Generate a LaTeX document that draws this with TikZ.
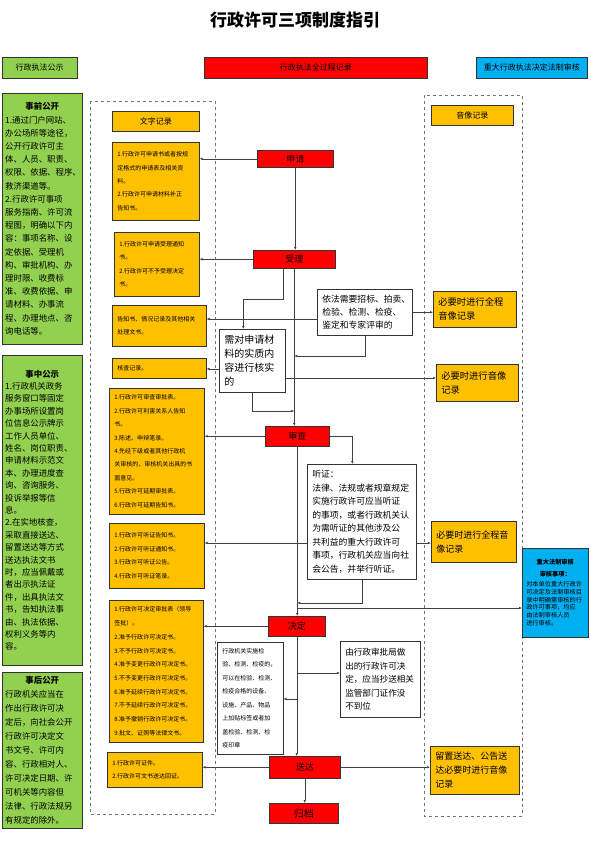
\documentclass[tikz,border=0pt]{standalone}
\usepackage{fontspec}
\setmainfont{Noto Sans CJK SC}
\usetikzlibrary{arrows.meta, positioning, calc}
\definecolor{lawgreen}{HTML}{92D050}
\definecolor{recgold}{HTML}{FFC000}
\definecolor{stepred}{HTML}{FF0000}
\definecolor{checkblue}{HTML}{00B0F0}

\begin{document}
\begin{tikzpicture}[x=1pt, y=-1pt,
  base/.style={draw=black!80, line width=0.5pt, anchor=north west, inner sep=0pt, align=left},
  stepbox/.style={base, fill=stepred, align=center, font=\fontsize{9}{10}\selectfont},
  headbox/.style={base, align=center, font=\fontsize{8}{9}\selectfont},
  pubbox/.style={base, fill=lawgreen, inner xsep=3pt, text width=74pt, minimum width=80},
  recbox/.style={base, fill=recgold, inner xsep=5pt, font=\fontsize{6}{13.4}\selectfont},
  avbox/.style={base, fill=recgold, inner xsep=5pt, font=\fontsize{9.3}{14}\selectfont},
  notebox/.style={base, fill=white, inner xsep=5pt},
  arr/.style={-{Latex[length=3pt,width=2.4pt]}, draw=black!75, line width=0.5pt},
  frame/.style={draw=black!55, dashed, line width=0.6pt}]
\useasboundingbox (0,0) rectangle (590,843);

\node[font=\fontsize{17}{18}\selectfont\bfseries] (title) at (295,20) {行政许可三项制度指引};

% column heads
\node[headbox, fill=lawgreen, minimum width=75, minimum height=21] (hpub) at (2,57) {行政执法公示};
\node[headbox, fill=stepred, minimum width=223, minimum height=21] (hrec) at (204,57) {行政执法全过程记录};
\node[headbox, fill=checkblue, minimum width=111, minimum height=21] (hchk) at (476,57) {重大行政执法决定法制审核};

% publicity column
\node[pubbox, minimum height=251, font=\fontsize{8.4}{13.2}\selectfont] (pre) at (2,93) {\makebox[\hsize]{\bfseries 事前公开}\\
1.通过门户网站、\\
办公场所等途径，\\
公开行政许可主\\
体、人员、职责、\\
权限、依据、程序、\\
救济渠道等。\\
2.行政许可事项\\
服务指南、许可流\\
程图，明确以下内\\
容：事项名称、设\\
定依据、受理机\\
构、审批机构、办\\
理时限、收费标\\
准、收费依据、申\\
请材料、办事流\\
程、办理地点、咨\\
询电话等。};
\node[pubbox, minimum height=310, font=\fontsize{8.4}{12.4}\selectfont] (mid) at (2,355) {\makebox[\hsize]{\bfseries 事中公示}\\
1.行政机关政务\\
服务窗口等固定\\
办事场所设置岗\\
位信息公示牌示\\
工作人员单位、\\
姓名、岗位职责、\\
申请材料示范文\\
本、办理进度查\\
询、咨询服务、\\
投诉举报等信\\
息。\\
2.在实地核查，\\
采取直接送达、\\
留置送达等方式\\
送达执法文书\\
时，应当佩戴或\\
者出示执法证\\
件，出具执法文\\
书，告知执法事\\
由、执法依据、\\
权利义务等内\\
容。};
\node[pubbox, minimum height=156, font=\fontsize{8.4}{14}\selectfont] (post) at (2,672) {\makebox[\hsize]{\bfseries 事后公开}\\
行政机关应当在\\
作出行政许可决\\
定后，向社会公开\\
行政许可决定文\\
书文号、许可内\\
容、行政相对人、\\
许可决定日期、许\\
可机关等内容但\\
法律、行政法规另\\
有规定的除外。};

% record frames
\draw[frame] (90,101) rectangle (215,814);
\draw[frame] (424,95) rectangle (522,816);
\node[headbox, fill=recgold, minimum width=87, minimum height=20] (txtrec) at (112,111) {文字记录};
\node[headbox, fill=recgold, minimum width=82, minimum height=20] (avrec) at (431,105) {音像记录};

% written records
\node[recbox, minimum width=87, minimum height=78, text width=77pt] (y1) at (112,142) {1.行政许可申请书或者按规\\定格式的申请表及相关资\\料。\\2.行政许可申请材料补正\\告知书。};
\node[recbox, minimum width=85, minimum height=64, text width=75pt] (y2) at (114,232) {1.行政许可申请受理通知\\书。\\2.行政许可不予受理决定\\书。};
\node[recbox, minimum width=94, minimum height=41, text width=84pt] (y3) at (112,305) {告知书、情况记录及其他相关\\处理文书。};
\node[recbox, minimum width=94, minimum height=20, text width=84pt] (y4) at (112,358) {核查记录。};
\node[recbox, minimum width=95, minimum height=126, text width=85pt] (y5) at (109,388) {1.行政许可审查审批表。\\2.行政许可利害关系人告知\\书。\\3.陈述、申辩笔录。\\4.先经下级或者其他行政机\\关审核的，审核机关出具的书\\面意见。\\5.行政许可延期审批表。\\6.行政许可延期告知书。};
\node[recbox, minimum width=95, minimum height=65, text width=85pt] (y6) at (109,523) {1.行政许可听证告知书。\\2.行政许可听证通知书。\\3.行政许可听证公告。\\4.行政许可听证笔录。};
\node[recbox, minimum width=94, minimum height=142, text width=84pt, font=\fontsize{6}{13.7}\selectfont] (y7) at (109,600) {1.行政许可决定审批表（领导\\签批）。\\2.准予行政许可决定书。\\3.不予行政许可决定书。\\4.准予变更行政许可决定书。\\5.不予变更行政许可决定书。\\6.准予延续行政许可决定书。\\7.不予延续行政许可决定书。\\8.准予撤销行政许可决定书。\\9.批文、证照等法律文书。};
\node[recbox, minimum width=95, minimum height=35, text width=85pt, font=\fontsize{6}{12.4}\selectfont] (y8) at (107,752) {1.行政许可证件。\\2.行政许可文书送达回证。};

% procedure steps
\node[stepbox, minimum width=76, minimum height=17] (apply) at (257,150) {申请};
\node[stepbox, minimum width=82, minimum height=18] (accept) at (253,250) {受理};
\node[stepbox, minimum width=64, minimum height=20] (review) at (265,426) {审查};
\node[stepbox, minimum width=57, minimum height=20] (decide) at (268,616) {决定};
\node[stepbox, minimum width=71, minimum height=22] (deliver) at (269,756) {送达};
\node[stepbox, minimum width=69, minimum height=20, font=\fontsize{10}{11}\selectfont] (archive) at (269,803) {归档};

% notes
\node[notebox, minimum width=95, minimum height=46, text width=85pt, font=\fontsize{8.8}{13.4}\selectfont] (tender) at (317,289) {依法需要招标、拍卖、\\检验、检测、检疫、\\鉴定和专家评审的};
\node[notebox, minimum width=66, minimum height=63, text width=56pt, font=\fontsize{10}{13.8}\selectfont] (verify) at (219,329) {需对申请材\\料的实质内\\容进行核实\\的};
\node[notebox, minimum width=109, minimum height=115, text width=99pt, font=\fontsize{8.8}{13.5}\selectfont] (hearing) at (307,464) {听证：\\法律、法规或者规章规定\\实施行政许可应当听证\\的事项，或者行政机关认\\为需听证的其他涉及公\\共利益的重大行政许可\\事项，行政机关应当向社\\会公告，并举行听证。};
\node[notebox, minimum width=66, minimum height=112, text width=56pt, font=\fontsize{6}{13.5}\selectfont] (inspect) at (217,642) {行政机关实施检\\验、检测、检疫的，\\可以在检验、检测、\\检疫合格的设备、\\设施、产品、物品\\上加贴标签或者加\\盖检验、检测、检\\疫印章};
\node[notebox, minimum width=80, minimum height=76, text width=70pt, font=\fontsize{8.6}{13.5}\selectfont] (report) at (340,641) {由行政审批局做\\出的行政许可决\\定，应当抄送相关\\监管部门证作没\\不到位};

% audio-visual records
\node[avbox, minimum width=83, minimum height=36, text width=73pt] (av1) at (433,291) {必要时进行全程\\音像记录};
\node[avbox, minimum width=82, minimum height=37, text width=72pt] (av2) at (436,364) {必要时进行音像\\记录};
\node[avbox, minimum width=85, minimum height=41, text width=75pt, font=\fontsize{9}{14}\selectfont] (av3) at (431,521) {必要时进行全程音\\像记录};
\node[avbox, minimum width=89, minimum height=48, text width=79pt, font=\fontsize{9}{14}\selectfont] (av4) at (430,746) {留置送达、公告送\\达必要时进行音像\\记录};

% legal review
\node[base, fill=checkblue, minimum width=66, minimum height=89, inner xsep=4pt, text width=58pt, font=\fontsize{6.2}{7.8}\selectfont] (legal) at (522,548) {\makebox[\hsize]{\bfseries 重大法制审核}\\[4pt]\makebox[\hsize]{\bfseries 审核事项：}\\[2pt]对本单位重大行政许\\可决定及法制审核目\\录中明确需审核的行\\政许可事项，均应\\由法制审核人员\\进行审核。};

% main flow
\draw[arr] (apply.south) -- (apply.south |- accept.north);
\draw[arr] (accept.south) -- (accept.south |- review.north);
\draw[arr] (review.south) -- (review.south |- decide.north);
\draw[arr] (decide.south) -- (decide.south |- deliver.north);
\draw[arr] (deliver.south) -- (deliver.south |- archive.north);

% steps to written records
\draw[arr] (apply.west) -- (apply.west -| y1.east);
\draw[arr] (accept.west) -- (accept.west -| y2.east);
\draw[arr] (review.west) -- (review.west -| y5.east);
\draw[arr] (decide.west) -- (decide.west -| y7.east);
\draw[arr] (deliver.west) -- (deliver.west -| y8.east);

% side branches
\draw[arr] ([xshift=-11pt]accept.south) -- ++(0,31) -| ([xshift=-9pt]verify.north);
\draw[arr] (tender.east) -- (tender.east -| av1.west);
\draw[arr] (tender.west |- 0,319) -- (y3.east |- 0,319);
\draw[arr] (tender.south) |- (accept.south |- 0,356);
\draw[arr] (verify.west |- 0,369) -- (y4.east |- 0,369);
\draw[arr] (verify.east |- 0,378) -- (av2.west |- 0,378);
\draw[arr] (verify.south) |- (accept.south |- 0,411);
\draw[arr] (review.east) -| ([xshift=-9.5pt]hearing.north);
\draw[arr] (hearing.west |- 0,543) -- (y6.east |- 0,543);
\draw[arr] (hearing.east |- 0,543) -- (av3.west |- 0,543);
\draw[arr] (hearing.south) |- (review.south |- 0,603);
\draw[arr] (review.south |- 0,608) -- (legal.west |- 0,608);
\draw[arr] (decide.south |- 0,673) -- (report.west |- 0,673);
\draw[arr] (decide.south |- 0,699) -- (inspect.east |- 0,699);
\draw[arr] (deliver.east) -- (deliver.east -| av4.west);
\end{tikzpicture}
\end{document}
